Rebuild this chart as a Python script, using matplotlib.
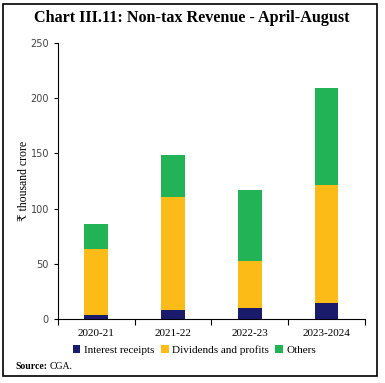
import numpy as np
import matplotlib.pyplot as plt
from matplotlib.patches import Rectangle

years = ["2020-21", "2021-22", "2022-23", "2023-2024"]
interest = [3.6, 8.2, 10.0, 14.2]
dividends = [59.8, 102.3, 42.5, 106.8]
others = [22.6, 38.0, 64.1, 88.5]

colors = ["#1b1b6b", "#fdbb18", "#22b357"]
serif = ["Liberation Serif", "DejaVu Serif"]


def main():
    fig = plt.figure(figsize=(3.85, 3.83), dpi=100)
    ax = fig.add_axes([0.1506, 0.167, 0.797, 0.721])

    x = np.arange(len(years))
    w = 0.31
    ax.bar(x, interest, w, color=colors[0], label="Interest receipts")
    ax.bar(x, dividends, w, bottom=interest, color=colors[1], label="Dividends and profits")
    bottom2 = np.array(interest) + np.array(dividends)
    ax.bar(x, others, w, bottom=bottom2, color=colors[2], label="Others")

    ax.set_xlim(-0.5, len(years) - 0.5)
    ax.set_ylim(0, 250)
    ax.set_yticks(range(0, 251, 50))
    ax.set_xticks(x)
    ax.set_xticklabels(years, family=serif, fontsize=8)
    ax.set_xticks(np.arange(-0.5, len(years), 1), minor=True)
    ax.tick_params(axis="x", which="major", length=0, pad=7)
    ax.tick_params(axis="x", which="minor", length=4, direction="out", width=0.8)
    ax.tick_params(axis="y", length=3, width=0.8, labelsize=7, colors="black", labelcolor="#444444")
    for s in ["top", "right"]:
        ax.spines[s].set_visible(False)
    ax.spines["left"].set_linewidth(0.8)
    ax.spines["bottom"].set_linewidth(0.8)

    ax.set_ylabel("₹ thousand crore", family=serif, fontsize=8.5, labelpad=0)

    fig.text(0.497, 0.953, "Chart III.11: Non-tax Revenue - April-August", ha="center",
             va="center", family=serif, fontweight="bold", fontsize=11.6)

    ax.legend(loc="upper center", bbox_to_anchor=(0.445, -0.077), ncol=3, frameon=False,
              prop={"family": serif, "size": 8}, handlelength=0.7, handleheight=0.7,
              handletextpad=0.3, columnspacing=0.6, borderaxespad=0)

    fig.text(0.039, 0.042, "Source:", family=serif, fontweight="bold", fontsize=7, va="center")
    fig.text(0.128, 0.042, "CGA.", family=serif, fontsize=7, va="center")

    fig.patches.append(Rectangle((0.0078, 0.018), 0.971, 0.972, transform=fig.transFigure,
                                 fill=False, edgecolor="black", linewidth=1.2))

    fig.savefig("out.png", dpi=100)


if __name__ == "__main__":
    main()
